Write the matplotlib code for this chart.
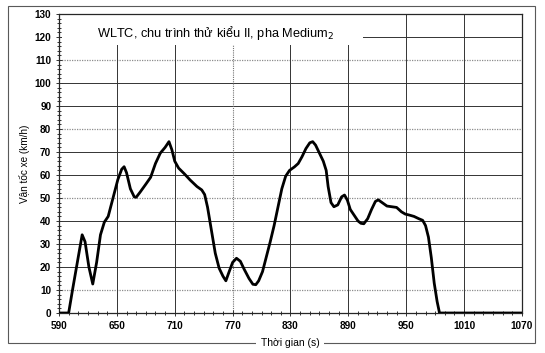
import numpy as np
import matplotlib.pyplot as plt
from matplotlib.patches import Rectangle
from matplotlib.ticker import MultipleLocator

plt.rcParams['font.family'] = ['Liberation Sans', 'DejaVu Sans']

# speed trace (time s, speed km/h)
time_s = [590, 600, 604, 609, 614, 617, 621, 625, 629, 633, 637, 641, 646, 651,
          655, 657.5, 660, 664, 668, 670, 674, 680, 685, 690, 695, 700, 704, 707,
          710, 714, 720, 726, 733, 738, 741, 744, 748, 752, 756, 760, 763, 766,
          770, 774, 778, 782, 787, 791, 794, 797, 801, 805, 809, 813, 817, 821,
          825, 829, 834, 838, 842, 846, 850, 853, 856, 860, 864, 867, 869, 872,
          875, 879, 883, 886, 889, 892, 896, 900, 903, 906, 910, 914, 918, 921,
          925, 930, 935, 940, 945, 949, 953, 958, 963, 967, 970, 973, 976, 979,
          982, 984.5, 1070]
speed_kmh = [0, 0, 10, 22, 34, 31, 20, 12.6, 22, 34, 39.5, 42, 50, 58,
             62.5, 63.6, 61, 54, 50.5, 50.3, 52.5, 56, 59, 65, 69.5, 72, 74.5, 71,
             66, 63, 60.5, 57.8, 55, 53.5, 51.5, 46, 36, 26, 19.5, 16, 14, 17.5,
             22, 23.8, 22.5, 19, 15, 12.5, 12.3, 14, 18, 24.5, 31, 38, 46, 54,
             59.5, 62, 63.5, 65, 68, 71.5, 74, 74.5, 73, 69.5, 66, 62, 55, 48,
             46.2, 47, 50.5, 51.3, 49, 45, 42.5, 40, 39, 38.8, 41, 45, 48.5, 49.2,
             48, 46.5, 46.2, 45.9, 44, 43, 42.6, 42, 41, 40.3, 38, 33, 24, 13,
             5, 0, 0]

x_ticks = [590, 650, 710, 770, 830, 890, 950, 1010, 1070]
y_ticks = list(range(0, 131, 10))
light_y = [10, 50, 80, 110]
light_x = [770]

title = "WLTC, chu trình thử kiểu II, pha Medium$_2$"

fig = plt.figure(figsize=(5.45, 3.53), dpi=100)
ax = fig.add_axes([59 / 545, 1 - 313 / 353, 463 / 545, 299 / 353])

for y in y_ticks[1:-1]:
    if y in light_y:
        ax.axhline(y, color='0.55', lw=0.9, ls=(0, (1, 1)), zorder=1)
    else:
        ax.axhline(y, color='0.2', lw=0.7, zorder=1)
for x in x_ticks[1:-1]:
    if x in light_x:
        ax.axvline(x, color='0.45', lw=0.8, ls=(0, (1, 1)), zorder=1)
    else:
        ax.axvline(x, color='0.2', lw=0.7, zorder=1)

ax.plot(time_s, speed_kmh, color='black', lw=2.0, zorder=4,
        solid_joinstyle='round', solid_capstyle='round')

# white box behind the title hides the top gridlines
ax.add_patch(Rectangle((0.006, 0.895), 0.65, 0.1, transform=ax.transAxes,
                       facecolor='white', edgecolor='none', zorder=2))
ax.text(0.082, 0.935, title, transform=ax.transAxes, fontsize=9.2,
        va='center', ha='left', zorder=5)

ax.set_xlim(590, 1070)
ax.set_ylim(0, 130)
ax.set_xticks(x_ticks)
ax.set_yticks(y_ticks)
ax.xaxis.set_minor_locator(MultipleLocator(10))
ax.yaxis.set_minor_locator(MultipleLocator(2))
ax.tick_params(which='both', direction='inout', color='0.2', width=0.7)
ax.tick_params(which='major', length=5, labelsize=7.2, pad=3)
ax.tick_params(which='minor', length=3.5)
for lab in ax.get_xticklabels() + ax.get_yticklabels():
    lab.set_fontweight('bold')
for s in ax.spines.values():
    s.set_color('0.15')
    s.set_linewidth(0.9)

ax.set_ylabel("Vận tốc xe (km/h)", fontsize=7.2, labelpad=3)

# outer frame, broken by the x label
fig.add_artist(Rectangle((8 / 545, 1 - 343 / 353), 527 / 545, 337 / 353,
                         transform=fig.transFigure, fill=False,
                         edgecolor='0.35', lw=0.8, zorder=0))
fig.text(290 / 545, 1 - 343 / 353, "Thời gian (s)", fontsize=7.5,
         ha='center', va='center', zorder=5,
         bbox=dict(facecolor='white', edgecolor='none', pad=3))

fig.savefig('out.png', dpi=100)
